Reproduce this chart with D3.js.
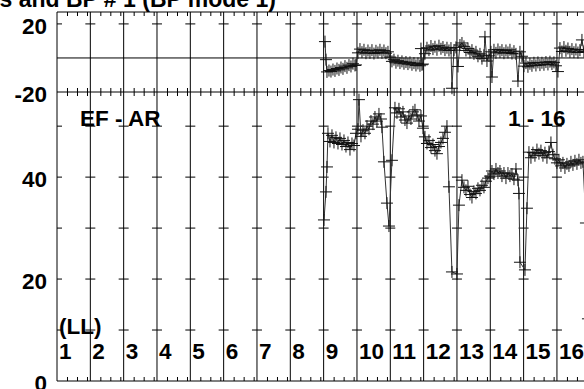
<!DOCTYPE html>
<html>
<head>
<meta charset="utf-8">
<script src="https://cdn.jsdelivr.net/npm/d3@7"></script>
<style>
  body { margin: 0; background: #fff; }
  svg { display: block; }
  text { font-family: "Liberation Sans", Arial, sans-serif; font-weight: bold; fill: #000; }
</style>
</head>
<body>
<svg id="chart" width="584" height="389"></svg>
<script>
// lane labels along the bottom
const laneLabels = ["1","2","3","4","5","6","7","8","9","10","11","12","13","14","15","16"];
const topTickValues = [20, -20];
const botTickValues = [40, 20, 0];
const topLevels = [20];
const botLevels = [10, 20, 30, 40, 50];

// BP panel (time in lane units, value)
const bpTime = [8.04,8.07,8.10,8.16,8.22,8.28,8.34,8.40,8.46,8.52,8.58,8.64,8.70,8.76,8.82,8.88,8.94,
  8.97,9.03,9.09,9.15,9.21,9.27,9.33,9.39,9.45,9.51,9.57,9.63,9.69,9.75,9.81,9.87,9.93,
  9.99,10.05,10.11,10.17,10.23,10.29,10.35,10.41,10.47,10.53,10.59,10.65,10.71,10.77,10.83,10.89,10.92,10.95,10.98,
  11.04,11.10,11.16,11.22,11.28,11.34,11.40,11.46,11.52,11.58,11.64,11.70,11.76,11.82,11.85,11.91,11.97,
  12.03,12.09,12.15,12.21,12.27,12.33,12.39,12.45,12.51,12.57,12.63,12.69,12.75,12.81,12.84,12.90,12.96,
  13.02,13.05,13.11,13.17,13.23,13.29,13.35,13.41,13.47,13.53,13.59,13.65,13.71,13.77,13.83,13.89,13.95,
  14.01,14.07,14.13,14.19,14.25,14.31,14.37,14.43,14.49,14.55,14.61,14.67,14.73,14.79,14.85,14.91,14.97,
  15.03,15.09,15.15,15.21,15.27,15.33,15.39,15.45,15.51,15.57,15.63,15.69,15.75,15.81,15.87];
const bpValue = [9.6,-1.0,-8.2,-7.4,-8.0,-6.8,-7.6,-6.2,-7.0,-5.6,-6.4,-4.8,-5.8,-4.2,-5.0,-3.4,-4.4,
  -4.1,3.0,5.2,3.4,4.8,2.8,4.4,3.0,4.6,2.6,4.2,3.2,4.8,3.0,4.4,2.8,3.6,
  0.5,-2.0,-1.0,-2.8,-1.6,-3.0,-2.0,-3.4,-2.4,-3.6,-2.6,-4.0,-3.0,-4.4,-3.2,-4.6,5.5,-4.0,-3.6,
  2.5,6.0,4.6,7.0,5.2,6.6,4.8,7.2,5.4,6.4,4.6,6.0,4.4,5.8,-17.8,4.6,6.2,
  -5.0,7.6,8.8,6.8,4.4,5.6,3.2,4.6,2.4,3.6,1.0,2.4,-0.4,1.6,12.4,-1.8,1.2,
  3.6,-11.2,4.8,3.0,5.0,3.4,4.6,2.8,4.4,3.2,4.8,2.6,4.0,2.4,-13.6,3.6,1.0,
  -4.8,-3.0,-5.2,-3.4,-4.6,-2.8,-4.4,-2.6,-4.2,-2.8,-4.0,-2.4,-3.8,-2.2,-3.6,-2.6,-4.6,
  -8.0,5.8,3.8,6.4,4.2,5.6,3.6,5.2,3.4,5.0,3.2,4.6,10.6,3.8,5.0];

// EF - AR panel
const arTime = [8.01,8.07,8.10,8.13,8.19,8.25,8.31,8.37,8.43,8.49,8.55,8.61,8.67,8.73,8.79,8.85,8.91,
  8.97,9.03,9.06,9.12,9.18,9.24,9.30,9.36,9.42,9.48,9.54,9.60,9.66,9.72,9.75,9.81,9.90,9.96,10.05,10.14,
  10.20,10.26,10.32,10.38,10.44,10.50,10.56,10.62,10.68,10.74,10.80,10.86,10.92,10.98,
  11.04,11.10,11.16,11.22,11.28,11.34,11.40,11.46,11.52,11.58,11.64,11.70,11.76,11.85,12.00,12.06,12.15,
  12.21,12.27,12.33,12.39,12.45,12.51,12.57,12.63,12.69,12.75,12.81,12.87,12.93,
  12.99,13.05,13.11,13.17,13.23,13.29,13.35,13.41,13.47,13.53,13.59,13.65,13.71,13.77,13.83,13.86,13.89,14.04,14.10,14.16,
  14.22,14.28,14.34,14.40,14.46,14.52,14.58,14.64,14.70,14.76,14.82,14.88,14.94,
  15.00,15.06,15.12,15.18,15.24,15.30,15.36,15.42,15.48,15.54,15.60,15.66,15.72,15.78,15.87,15.93];
const arValue = [31.6,37.1,42.0,48.6,47.0,48.2,46.8,47.8,46.6,47.6,46.4,47.2,46.0,46.8,45.4,46.6,46.2,
  48.6,49.4,55.2,48.0,49.2,48.6,50.0,49.4,51.0,50.4,51.8,51.0,52.4,51.4,49.8,43.0,34.9,30.4,43.3,53.6,
  52.6,53.4,51.8,52.8,51.2,50.6,52.0,51.4,52.8,53.2,52.2,51.0,52.0,49.6,
  47.9,46.6,47.2,45.8,46.4,45.2,44.6,46.0,46.8,47.6,48.8,50.0,38.1,21.4,21.0,34.5,39.4,
  38.0,37.4,38.2,36.6,36.0,37.2,36.8,37.8,37.4,38.4,38.0,39.2,39.8,
  40.2,41.2,40.6,41.6,40.8,41.2,40.2,40.8,39.8,40.8,40.2,40.6,39.6,41.6,39.4,36.8,23.3,21.8,33.9,44.9,
  43.8,44.8,44.2,45.4,44.6,45.2,44.2,44.8,43.8,45.0,46.8,44.4,43.6,
  42.8,43.4,42.2,42.8,41.8,42.6,42.2,43.0,42.4,43.2,42.6,43.4,42.8,43.0,31.0,12.2];

const svg = d3.select("#chart");
const left = 57, laneW = 33.33;
const x = d3.scaleLinear().domain([0, 16]).range([left, left + 16 * laneW]);
const yTop = d3.scaleLinear().domain([-20, 27]).range([92, 12]);
const yBot = d3.scaleLinear().domain([0, 56.7]).range([381, 92]);
const lanes = d3.range(0, 17);
const minor = lanes.flatMap(k => [k + 0.3, k + 0.6, k + 0.9]);

const g = svg.append("g");

// title, clipped by the top of the page like the original
svg.append("text")
  .attr("x", 276).attr("y", 6.5)
  .attr("text-anchor", "end")
  .style("font-size", "23px")
  .text("Angles and BP # 1 (BP mode 1)");

// vertical lane lines
g.selectAll(".lane")
  .data(lanes)
  .enter()
  .append("line")
  .attr("class", "lane")
  .attr("x1", d => x(d)).attr("x2", d => x(d))
  .attr("y1", 12).attr("y2", 381)
  .attr("stroke", "#000").attr("stroke-width", 1);

// frame lines
[12, 92, 381].forEach(yy => {
  g.append("line").attr("x1", left).attr("x2", 584).attr("y1", yy).attr("y2", yy)
    .attr("stroke", "#000");
});
g.append("line").attr("x1", left).attr("x2", 584).attr("y1", yTop(0)).attr("y2", yTop(0))
  .attr("stroke", "#000");

// short level ticks on each lane line
function levelTicks(levels, scale, cls) {
  const pairs = lanes.flatMap(k => levels.map(v => [k, v]));
  g.selectAll("." + cls)
    .data(pairs)
    .enter()
    .append("line")
    .attr("class", cls)
    .attr("x1", d => d[0] === 0 ? x(0) : x(d[0]) - 5)
    .attr("x2", d => x(d[0]) + 5)
    .attr("y1", d => scale(d[1])).attr("y2", d => scale(d[1]))
    .attr("stroke", "#000");
}
levelTicks(topLevels, yTop, "tTick");
levelTicks(botLevels, yBot, "bTick");

// minor time ticks on the borders
function minorAxis(axis, yy) {
  const a = g.append("g").attr("transform", "translate(0," + yy + ")")
    .call(axis.tickValues(minor).tickSize(4).tickFormat(""));
  a.select(".domain").remove();
  a.selectAll("line").attr("stroke", "#000");
}
minorAxis(d3.axisBottom(x), 12);
minorAxis(d3.axisTop(x), 92);
minorAxis(d3.axisBottom(x), 92);
minorAxis(d3.axisTop(x), 381);

// y labels (plain hyphen for negatives)
function yLabels(scale, vals) {
  const a = g.append("g").attr("transform", "translate(" + left + ",0)")
    .call(d3.axisLeft(scale).tickValues(vals).tickSize(0).tickPadding(10).tickFormat(d => String(d)));
  a.select(".domain").remove();
  a.selectAll("text")
    .attr("dy", "0.42em")
    .style("font-size", "22.5px")
    .style("font-family", "'Liberation Sans', Arial, sans-serif")
    .style("font-weight", "bold")
    .attr("fill", "#000");
}
yLabels(yTop, topTickValues);
yLabels(yBot, botTickValues);

// panel captions
g.append("text").attr("x", 80).attr("y", 126).style("font-size", "22.5px").text("EF - AR");
g.append("text").attr("x", 508).attr("y", 126).style("font-size", "22.5px").text("1 - 16");
g.append("text").attr("x", 59).attr("y", 334).style("font-size", "22.5px").text("(LL)");

g.selectAll(".laneTxt")
  .data(laneLabels)
  .enter()
  .append("text")
  .attr("class", "laneTxt")
  .attr("x", (d, i) => x(i) + 2)
  .attr("y", 359)
  .style("font-size", "22.5px")
  .text(d => d);

// series: connected line + "+" markers
function series(times, values, scale) {
  const pts = times.map((t, i) => [t, values[i]]);
  const line = d3.line().x(d => x(d[0])).y(d => scale(d[1]));
  g.append("path")
    .datum(pts)
    .attr("d", line)
    .attr("fill", "none")
    .attr("stroke", "#333")
    .attr("stroke-width", 1);
  g.append("g")
    .selectAll("path")
    .data(pts)
    .enter()
    .append("path")
    .attr("d", d => {
      const px = x(d[0]), py = scale(d[1]);
      return "M" + (px - 6) + "," + py + "H" + (px + 6) + "M" + px + "," + (py - 6) + "V" + (py + 6);
    })
    .attr("stroke", "#111")
    .attr("stroke-width", 1)
    .attr("fill", "none");
}
series(bpTime, bpValue, yTop);
series(arTime, arValue, yBot);
</script>
</body>
</html>
